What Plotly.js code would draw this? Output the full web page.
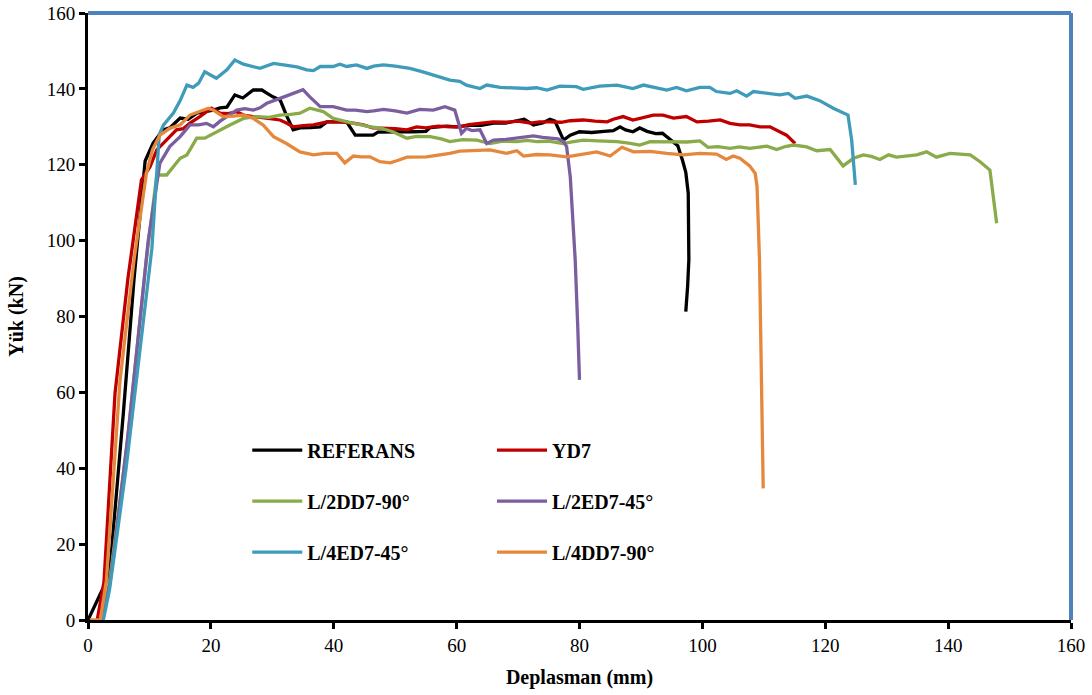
<!DOCTYPE html>
<html>
<head>
<meta charset="utf-8">
<script src="https://cdn.plot.ly/plotly-3.0.1.min.js"></script>
<style>html,body{margin:0;padding:0;background:#fff;}#chart{width:1092px;height:695px;}</style>
</head>
<body>
<div id="chart"></div>
<script>
// Series names
const seriesNames = ["REFERANS", "YD7", "L/2DD7-90°", "L/2ED7-45°", "L/4ED7-45°", "L/4DD7-90°"];

// REFERANS
const refX = [0, 2, 3.5, 5.75, 7.5, 9.3, 10.6, 12.2, 13.3, 15, 16.3, 17.7, 19, 20.4, 21.5, 22.6, 23.9, 25.2, 26.9, 28.3, 29.1, 30.1, 31.3, 32.3, 33.4, 34.5, 36.2, 37.8, 38.9, 40.5, 42.1, 43.5, 45, 46.4, 47.2, 49, 51, 53, 55, 55.7, 57, 58.4, 60, 62, 64, 66, 68, 69.5, 71, 72.5, 74, 75.2, 76, 77.4, 78.5, 80, 82, 84, 85.5, 86.6, 87.5, 88.7, 89.8, 91, 92.4, 93.5, 94.8, 96, 96.8, 97.3, 97.7, 97.8, 97.6, 97.3];
const refY = [0, 7, 12, 54.5, 90, 121, 125.7, 129.2, 129.7, 132.3, 132, 133.6, 134, 134.4, 135, 135.2, 138.4, 137.6, 139.7, 139.7, 138.9, 137.9, 137, 133, 129.2, 129.7, 129.8, 130, 131.3, 131.3, 131.3, 127.8, 127.8, 127.8, 128.6, 128.7, 128.7, 128.7, 128.8, 129.8, 130, 130.2, 130, 130.4, 130.4, 131, 131, 131.5, 132, 130.5, 131, 132, 131.5, 126.5, 127.8, 128.7, 128.5, 128.8, 129, 130, 129.2, 128.7, 129.7, 128.8, 128.2, 128.3, 126.5, 125, 121, 118, 112.5, 95, 88, 81.3];

// YD7
const yd7X = [1.5, 2.6, 4.4, 6.5, 8.7, 10.1, 11.2, 12.8, 14.4, 15.5, 16.6, 18.2, 20.1, 21.5, 22.8, 24.2, 25.5, 26.9, 29, 31.25, 32.3, 33.4, 35, 36.7, 38.9, 41, 43.2, 44.8, 46.4, 48, 50, 51.9, 53.5, 55, 57, 59, 60.5, 62, 64, 65.9, 68, 70, 72, 73.5, 75.2, 77, 78.5, 80.6, 82.5, 84.5, 85.5, 87.1, 88.7, 90.3, 92, 93.6, 94.7, 95.3, 97.4, 99.1, 101, 102.9, 104.5, 106.1, 107.7, 109.4, 111, 112.1, 113.7, 115.1];
const yd7Y = [0, 10, 59.8, 90, 116, 119.5, 123.9, 126.5, 129.2, 129.5, 131, 132.7, 134.9, 133.6, 133.5, 134, 133, 132.7, 132.3, 131.8, 131, 130, 130.3, 130.5, 131.3, 131.3, 131, 130.5, 129.7, 129.7, 129.5, 129.2, 130, 129.7, 130.2, 130, 130, 130.6, 131, 131.3, 131.2, 131.5, 131, 131.3, 131.3, 131.2, 131.6, 131.8, 131.5, 131.3, 132, 132.7, 131.8, 132.5, 133.1, 133.1, 132.7, 132.3, 132.7, 131.3, 131.5, 131.8, 130.9, 130.5, 130.5, 130, 130, 129.2, 127.8, 125.6];

// L/2DD7-90°
const l2ddX = [2.3, 3.5, 4.3, 6.3, 9.5, 11.2, 12.8, 13.9, 15, 16.1, 17.7, 19, 20.9, 23.1, 25.3, 27.5, 29.5, 31.25, 33, 34.5, 36.1, 37.2, 38.3, 39.9, 41.5, 43.2, 44.5, 45.9, 47.5, 49.6, 51.9, 53.5, 55.7, 57.5, 58.9, 61, 63.3, 65.4, 67.5, 69.8, 71.5, 73, 75, 77.3, 78.8, 80.6, 83, 86.1, 88, 89.8, 91.5, 93.1, 95.8, 97.5, 99.6, 100.9, 102.5, 104.5, 106, 107.7, 109, 110.5, 112.1, 113.5, 114.8, 117, 118.6, 120.8, 122.9, 124.6, 126.2, 127.5, 128.9, 130.3, 131.6, 133.3, 134.9, 136.5, 138.1, 140.3, 142, 143.6, 145.2, 146.8, 147.9];
const l2ddY = [0, 10, 20, 45.7, 95, 117.3, 117.3, 119.5, 121.7, 122.6, 127, 127, 128.7, 130.5, 132.2, 132.7, 132.5, 133.1, 133.3, 133.6, 134.9, 134.5, 134, 132.2, 131.5, 130.9, 130.5, 130, 129.7, 128.7, 127, 127.5, 127.4, 126.8, 126.1, 126.6, 126.5, 125.6, 126.2, 126.1, 126.4, 126.1, 126.2, 125.6, 126, 126.5, 126.3, 126.1, 125.7, 125.2, 126.1, 126.1, 126.1, 126, 126.3, 124.6, 124.8, 124.3, 124.7, 124.3, 124.6, 124.9, 124, 124.8, 125.2, 124.7, 123.7, 124, 119.7, 121.7, 122.6, 122.2, 121.4, 122.6, 122, 122.3, 122.6, 123.4, 122, 123, 122.7, 122.6, 120.8, 118.6, 104.6];

// L/2ED7-45°
const l2edX = [2.4, 3.6, 4.4, 6.6, 9.8, 11.7, 13.3, 15, 16.6, 18, 19.3, 20.4, 21.5, 22.6, 24.2, 25.5, 26.9, 28, 29.1, 31.25, 33.4, 35, 36.1, 37.8, 39.9, 41, 42.1, 43.5, 45.4, 46.5, 48.1, 50, 51.9, 54, 56.2, 58.1, 59.7, 60.8, 61.6, 62.5, 63.8, 64.9, 66, 68, 69.8, 71, 72.5, 74, 75.2, 76.5, 77.4, 77.9, 78.5, 79, 79.3, 79.7, 80];
const l2edY = [0, 10, 20, 50, 100, 120.4, 124.8, 127.4, 130.5, 130.5, 130.9, 130, 131.5, 132.7, 134.4, 134.8, 134.4, 135, 136.2, 137.5, 138.8, 139.8, 137.9, 135.3, 135.3, 134.8, 134.4, 134.4, 134, 134.2, 134.6, 134.2, 133.6, 134.6, 134.4, 135.3, 134.4, 128.3, 129.6, 129, 129.2, 125.6, 126.5, 126.7, 127, 127.2, 127.6, 127.2, 127, 126.8, 126.1, 124.8, 116.8, 103.7, 94.9, 78, 63.3];

// L/4ED7-45°
const l4edX = [2.5, 3.5, 4.1, 6.2, 10.4, 11.6, 12.3, 13.9, 15, 16.1, 17.1, 18, 19, 20.9, 22.6, 23.9, 25.3, 26.5, 28, 30.2, 32.3, 34, 35.6, 36.7, 37.8, 39.9, 41, 42.1, 43.7, 45.4, 46.5, 47.5, 48.1, 50, 52.4, 54.5, 56.2, 58.9, 60.5, 61.6, 63.8, 64.9, 67.1, 69, 71.4, 73, 74.7, 76.8, 79.5, 80.6, 83.3, 86.1, 88.7, 90.4, 92, 94.2, 95.8, 97.4, 99.6, 101.2, 102.3, 104.5, 105.6, 107.2, 108.3, 111, 112.6, 114, 115.1, 117, 119.1, 121.3, 123.7, 124.3, 124.9];
const l4edY = [0, 8, 15, 40, 98, 128, 130.5, 133.6, 136.9, 141, 140.4, 141.5, 144.5, 142.8, 145, 147.6, 146.5, 146, 145.4, 146.7, 146.3, 145.8, 145, 144.8, 145.9, 145.9, 146.5, 145.9, 146.3, 145.4, 146, 146.3, 146.3, 146, 145.4, 144.5, 143.6, 142.3, 142, 141, 140.1, 141, 140.4, 140.3, 140.1, 140.3, 139.7, 140.7, 140.6, 139.9, 140.7, 141, 140.1, 141, 140.5, 139.7, 140.4, 139.5, 140.4, 140.4, 139.3, 138.8, 139.5, 138.1, 139.3, 138.7, 138.4, 138.8, 137.5, 138.1, 136.9, 134.9, 133.1, 126.5, 114.7];

// L/4DD7-90°
const l4ddX = [0.3, 2.0, 3.0, 5.2, 7.5, 9.5, 10.5, 11.7, 13.3, 15, 16.6, 18.2, 19.6, 20.4, 22, 23.7, 25.3, 26.9, 28.5, 30.2, 32.3, 34.5, 36.7, 38.5, 40.5, 41.8, 43.2, 44.5, 45.9, 47.5, 49.2, 50.5, 51.9, 55.1, 58.9, 60.5, 63, 65.4, 68.1, 69.8, 70.9, 73, 75.2, 77.9, 80.6, 82.8, 85, 86.9, 88.8, 91.5, 94.2, 96.9, 99.6, 102.3, 103.9, 105, 106.1, 107.7, 108.6, 108.9, 109.3, 109.6, 109.9];
const l4ddY = [0, 0, 10.5, 63, 95, 117.7, 124, 127.8, 129.6, 130.5, 133.1, 134, 134.9, 134.4, 132.7, 132.8, 133.1, 132.2, 130.5, 127.4, 125.6, 123.4, 122.6, 123, 123, 120.5, 122.3, 122.1, 122.1, 120.8, 120.5, 121.2, 122, 122.1, 123, 123.6, 123.7, 123.9, 123, 123.7, 122.3, 122.7, 122.6, 122.1, 122.8, 123.4, 122.3, 124.6, 123.4, 123.5, 123, 122.6, 123, 122.8, 121.4, 122.3, 121.7, 119.7, 117.7, 114.2, 94.9, 70, 34.7];

// Axis ticks
const tickVals = [0, 20, 40, 60, 80, 100, 120, 140, 160];

const colors = ["#000000", "#C00000", "#8AAB4A", "#7A5E9F", "#3E9BBA", "#E5883C"];
const xs = [refX, yd7X, l2ddX, l2edX, l4edX, l4ddX];
const ys = [refY, yd7Y, l2ddY, l2edY, l4edY, l4ddY];
const legendOf = ["legend", "legend2", "legend", "legend2", "legend", "legend2"];

const FONT = "Liberation Serif, 'Times New Roman', Times, serif";

const traces = seriesNames.map((name, i) => ({
  type: "scatter",
  mode: "lines",
  name: name,
  x: xs[i],
  y: ys[i],
  line: {color: colors[i], width: 3.3},
  legend: legendOf[i],
  legendgroup: "g" + i,
  hoverinfo: "x+y+name"
}));

const legendCommon = {
  bgcolor: "rgba(0,0,0,0)",
  borderwidth: 0,
  font: {family: FONT, size: 20, color: "#000", weight: "bold"},
  itemwidth: 50,
  tracegroupgap: 22,
  xanchor: "left",
  yanchor: "top",
  orientation: "v"
};

const layout = {
  width: 1092,
  height: 695,
  margin: {l: 88, r: 21, t: 13, b: 75},
  paper_bgcolor: "#ffffff",
  plot_bgcolor: "#ffffff",
  font: {family: FONT, size: 19, color: "#000"},
  showlegend: true,
  legend: Object.assign({}, legendCommon, {x: 0.162, y: 0.312}),
  legend2: Object.assign({}, legendCommon, {x: 0.411, y: 0.312}),
  xaxis: {
    range: [0, 160],
    tickvals: tickVals,
    ticktext: tickVals.map(String),
    showgrid: false,
    zeroline: false,
    showline: true,
    linecolor: "#000",
    linewidth: 3,
    ticks: "outside",
    ticklen: 6,
    tickwidth: 3,
    tickcolor: "#000",
    tickfont: {family: FONT, size: 19, color: "#000"},
    title: {text: "Deplasman (mm)", font: {family: FONT, size: 20, color: "#000", weight: "bold"}, standoff: 16}
  },
  yaxis: {
    range: [0, 160],
    tickvals: tickVals,
    ticktext: tickVals.map(String),
    showgrid: false,
    zeroline: false,
    showline: true,
    linecolor: "#000",
    linewidth: 3,
    ticks: "outside",
    ticklen: 6,
    tickwidth: 3,
    tickcolor: "#000",
    tickfont: {family: FONT, size: 19, color: "#000"},
    title: {text: "Yük (kN)", font: {family: FONT, size: 20, color: "#000", weight: "bold"}, standoff: 18}
  },
  shapes: [
    {type: "line", xref: "paper", yref: "paper", x0: 0, x1: 1, y0: 1, y1: 1, line: {color: "#4F81BD", width: 4}},
    {type: "line", xref: "paper", yref: "paper", x0: 1, x1: 1, y0: 0, y1: 1, line: {color: "#4F81BD", width: 4}}
  ]
};

Plotly.newPlot("chart", traces, layout, {displayModeBar: false, staticPlot: true});
</script>
</body>
</html>
